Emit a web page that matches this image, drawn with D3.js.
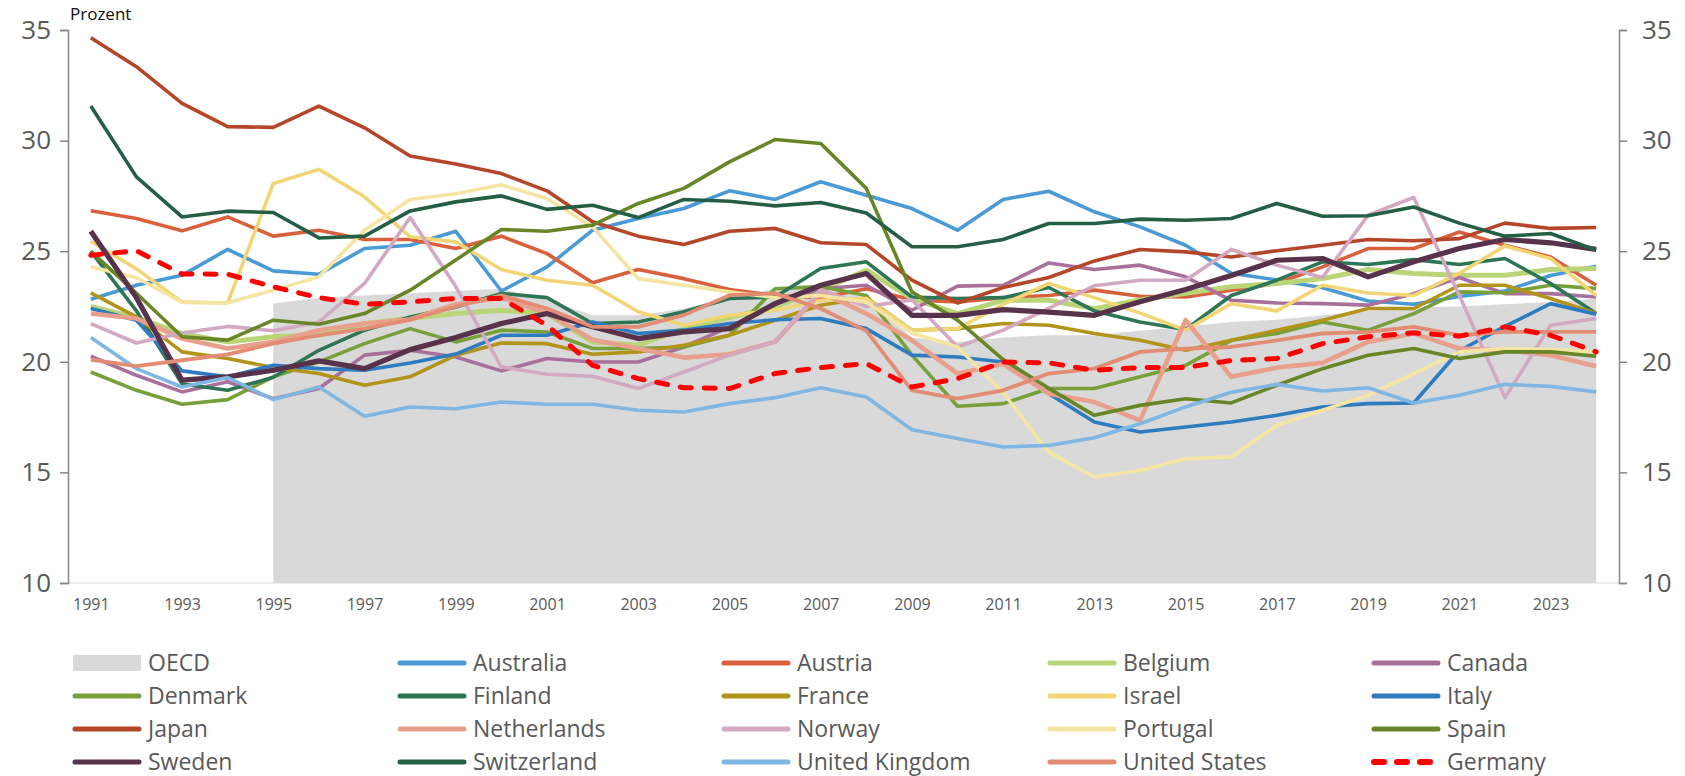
<!DOCTYPE html>
<html><head><meta charset="utf-8">
<script src="https://cdn.jsdelivr.net/npm/d3@7"></script>
<style>body{margin:0;background:#fff} svg{display:block} text{font-family:"Open Sans",sans-serif}</style>
</head><body><svg id="c" width="1685" height="776"></svg>
<script>
const years = d3.range(1991, 2025);
const yearTickLabels = [1991,1993,1995,1997,1999,2001,2003,2005,2007,2009,2011,2013,2015,2017,2019,2021,2023];
const yTickValues = [10,15,20,25,30,35];
const oecdYears = d3.range(1995, 2025);
const oecd = [22.63,22.9,23.0,23.1,23.2,23.3,22.8,22.1,22.1,22.4,22.9,23.3,23.4,22.9,21.1,20.9,21.1,21.2,21.2,21.4,21.6,21.8,21.9,22.1,22.3,22.45,22.5,22.6,22.7,22.85];

const australia = [22.83,23.46,23.91,25.08,24.11,23.96,25.12,25.27,25.9,23.2,24.29,25.95,26.48,26.93,27.73,27.34,28.14,27.53,26.93,25.95,27.34,27.71,26.78,26.1,25.27,24.0,23.7,23.35,22.75,22.6,22.95,23.2,23.9,24.32];
const austria = [26.83,26.48,25.92,26.55,25.68,25.95,25.53,25.53,25.12,25.68,24.89,23.57,24.17,23.76,23.27,23.0,22.9,23.3,22.8,22.7,22.9,23.0,23.24,22.96,22.93,23.24,23.54,24.29,25.12,25.12,25.87,25.27,24.74,23.46];
const belgium = [22.5,22.0,21.28,20.9,21.13,21.2,21.73,21.96,22.18,22.33,22.18,20.9,20.75,21.5,22.0,22.5,23.24,24.14,22.86,22.18,22.78,22.78,22.4,22.8,23.1,23.39,23.54,23.76,24.17,23.99,23.91,23.91,24.17,24.22];
const canada = [20.25,19.39,18.64,19.1,18.33,18.79,20.3,20.52,20.22,19.59,20.15,19.99,19.99,20.67,21.58,22.6,23.3,23.46,22.33,23.42,23.46,24.47,24.17,24.37,23.84,22.78,22.66,22.63,22.56,23.08,23.81,23.08,23.08,22.93];
const denmark = [19.54,18.71,18.08,18.29,19.32,20.0,20.82,21.5,20.9,21.43,21.35,20.6,20.6,20.67,21.2,23.3,23.4,23.0,20.3,17.99,18.11,18.79,18.79,19.32,19.84,20.97,21.28,21.8,21.43,22.18,23.16,23.12,23.46,23.31];
const finland = [25.0,22.3,19.0,18.71,19.3,20.52,21.43,22.03,22.48,23.09,22.9,21.73,21.8,22.26,22.86,22.93,24.22,24.52,22.93,22.86,22.9,23.36,22.3,21.8,21.46,23.0,23.69,24.52,24.4,24.62,24.4,24.67,23.54,22.18];
const france = [23.12,22.03,20.45,20.15,19.74,19.47,18.94,19.32,20.3,20.85,20.82,20.34,20.45,20.75,21.2,21.88,22.56,22.9,21.43,21.5,21.73,21.65,21.28,20.97,20.52,20.97,21.43,21.88,22.41,22.41,23.46,23.46,22.86,22.18];
const israel = [25.45,24.2,22.7,22.66,28.06,28.7,27.46,25.65,25.42,24.17,23.69,23.46,22.26,21.65,22.1,22.33,22.78,22.86,21.43,21.5,22.6,23.54,22.9,22.2,21.43,22.63,22.3,23.46,23.11,23.0,24.0,25.24,24.67,23.0];
const italy = [22.41,21.88,19.59,19.32,19.84,19.69,19.62,19.95,20.35,21.2,21.2,21.8,21.28,21.43,21.73,21.9,21.96,21.5,20.3,20.22,19.99,18.56,17.28,16.83,17.05,17.28,17.58,17.96,18.11,18.14,20.5,21.6,22.63,22.15];
const japan = [34.65,33.34,31.68,30.63,30.6,31.56,30.58,29.3,28.94,28.51,27.73,26.33,25.68,25.3,25.9,26.03,25.38,25.3,23.69,22.66,23.36,23.81,24.56,25.08,24.97,24.74,25.02,25.27,25.53,25.47,25.57,26.27,26.03,26.07];
const netherlands = [22.18,21.96,21.05,20.6,20.9,21.43,21.73,21.91,22.6,22.9,22.2,21.0,20.6,20.19,20.34,20.9,23.16,22.18,20.97,19.47,19.9,18.56,18.18,17.35,21.88,19.32,19.74,19.95,20.9,21.28,20.6,20.52,20.3,19.8];
const norway = [21.73,20.85,21.3,21.6,21.4,21.8,23.54,26.52,23.4,19.77,19.44,19.35,18.79,19.54,20.3,20.9,23.27,22.5,22.8,20.67,21.43,22.41,23.44,23.69,23.69,25.08,24.37,23.81,26.63,27.43,23.0,18.38,21.65,21.96];
const portugal = [24.3,23.8,22.7,22.66,23.24,23.84,25.95,27.34,27.6,28.0,27.38,26.1,23.76,23.46,23.16,22.9,23.0,22.7,21.3,20.67,18.6,15.92,14.79,15.09,15.62,15.7,17.13,17.81,18.49,19.47,20.45,20.6,20.55,20.45];
const spain = [25.0,23.1,21.13,20.98,21.88,21.7,22.18,23.24,24.6,25.98,25.9,26.18,27.16,27.84,29.04,30.05,29.87,27.84,23.16,21.88,20.1,18.8,17.58,18.03,18.33,18.14,18.94,19.69,20.3,20.6,20.15,20.45,20.45,20.25];
const sweden = [25.9,22.9,19.17,19.32,19.62,20.04,19.69,20.55,21.1,21.73,22.18,21.58,21.05,21.35,21.5,22.63,23.46,23.99,22.1,22.1,22.36,22.25,22.1,22.71,23.27,23.9,24.59,24.67,23.84,24.52,25.12,25.53,25.38,25.08];
const switzerland = [31.56,28.36,26.55,26.81,26.75,25.6,25.68,26.82,27.23,27.5,26.89,27.08,26.52,27.34,27.26,27.05,27.2,26.73,25.2,25.2,25.53,26.25,26.25,26.45,26.4,26.48,27.16,26.58,26.6,27.0,26.27,25.68,25.8,25.05];
const unitedKingdom = [21.1,19.69,18.86,19.29,18.29,18.86,17.54,17.96,17.88,18.18,18.08,18.08,17.81,17.73,18.11,18.38,18.83,18.41,16.93,16.53,16.15,16.22,16.57,17.2,17.96,18.62,18.98,18.68,18.83,18.14,18.49,18.98,18.89,18.64];
const unitedStates = [20.1,19.8,20.07,20.34,20.82,21.2,21.5,21.9,22.5,23.0,22.41,21.58,21.58,22.11,23.01,23.09,22.41,21.4,18.71,18.33,18.71,19.47,19.69,20.45,20.6,20.67,20.97,21.28,21.35,21.58,21.2,21.35,21.35,21.35];
const germany = [24.82,25.02,23.97,23.96,23.39,22.9,22.6,22.71,22.86,22.86,21.65,19.84,19.24,18.83,18.79,19.47,19.74,19.92,18.86,19.24,19.99,19.95,19.62,19.74,19.74,20.06,20.15,20.82,21.13,21.31,21.16,21.58,21.2,20.45];

const seriesNames = ["Australia","Austria","Belgium","Canada","Denmark","Finland","France","Israel","Italy","Japan","Netherlands","Norway","Portugal","Spain","Sweden","Switzerland","United Kingdom","United States","Germany"];
const seriesValues = [australia,austria,belgium,canada,denmark,finland,france,israel,italy,japan,netherlands,norway,portugal,spain,sweden,switzerland,unitedKingdom,unitedStates,germany];
const seriesColors = ["#4A9AD6","#D9603C","#B9D577","#A8709A","#77A03A","#2E7556","#B3941A","#F2D675","#2E7BBF","#B4462A","#E8A08C","#D2A9C1","#F5E5A2","#688628","#58314A","#245E45","#80B6E2","#E28C74","#FF0000"];
const seriesWidths = [3.6,3.6,5,3.6,3.6,3.6,3.6,3.6,3.6,3.6,4.6,3.6,3.6,3.6,5.2,3.6,3.6,3.8,5];

const legendOrder = ["OECD","Australia","Austria","Belgium","Canada","Denmark","Finland","France","Israel","Italy","Japan","Netherlands","Norway","Portugal","Spain","Sweden","Switzerland","United Kingdom","United States","Germany"];

const svg = d3.select("#c");
const pL = 68, pR = 1619, pT = 30, pB = 583;
const x = d3.scaleLinear().domain([1990.5, 2024.5]).range([pL, pR]);
const y = d3.scaleLinear().domain([10, 35]).range([pB, pT]);
const grey = "#595959";

svg.append("path")
  .datum(oecdYears.map((yr,i)=>[yr, oecd[i]]))
  .attr("fill","#D9D9D9")
  .attr("d", d3.area().x(d=>x(d[0])).y0(y(10)).y1(d=>y(d[1])));

svg.append("line").attr("x1",pL).attr("x2",pR).attr("y1",pB).attr("y2",pB)
  .attr("stroke","#D9D9D9").attr("stroke-width",1.2);

const yAxisL = d3.axisLeft(y).tickValues(yTickValues).tickSize(8).tickPadding(9);
const yAxisR = d3.axisRight(y).tickValues(yTickValues).tickSize(8).tickPadding(15);
function styleAxis(g){
  g.select(".domain").attr("stroke","#868686").attr("stroke-width",1.5);
  g.selectAll(".tick line").attr("stroke","#868686").attr("stroke-width",1.5);
  g.selectAll(".tick text").attr("fill",grey).style("font-size","26px").style("font-family","'Open Sans',sans-serif");
}
svg.append("g").attr("transform",`translate(${pL},0)`).call(yAxisL).call(styleAxis);
svg.append("g").attr("transform",`translate(${pR},0)`).call(yAxisR).call(styleAxis);

const xAxis = d3.axisBottom(x).tickValues(yearTickLabels).tickFormat(d3.format("d")).tickSize(0).tickPadding(16);
const gx = svg.append("g").attr("transform",`translate(0,${pB})`).call(xAxis);
gx.select(".domain").remove();
gx.selectAll(".tick text").attr("fill",grey).style("font-size","16px").style("font-family","'Open Sans',sans-serif");

const line = d3.line().x((d,i)=>x(years[i])).y(d=>y(d));
seriesNames.forEach((name,k)=>{
  const p = svg.append("path").datum(seriesValues[k])
    .attr("fill","none").attr("stroke",seriesColors[k]).attr("stroke-width",seriesWidths[k])
    .attr("stroke-linejoin","round").attr("d",line);
  if(name==="Germany"){ p.attr("stroke-dasharray","11,13").attr("stroke-linecap","round"); }
});

svg.append("text").attr("x",70).attr("y",20).attr("fill","#111").style("font-size","17px").text("Prozent");

const colX = [73,398,722,1048,1372];
const rowY = [663,696,729,762];
legendOrder.forEach((name,i)=>{
  const cx = colX[i%5], cy = rowY[Math.floor(i/5)];
  const g = svg.append("g");
  if(name==="OECD"){
    g.append("rect").attr("x",cx).attr("y",cy-8).attr("width",68).attr("height",16).attr("fill","#D9D9D9");
  } else {
    const k = seriesNames.indexOf(name);
    const l = g.append("line").attr("x1",cx+2).attr("x2",cx+66).attr("y1",cy).attr("y2",cy)
      .attr("stroke",seriesColors[k]).attr("stroke-width",name==="Germany"?6:5).attr("stroke-linecap","round");
    if(name==="Germany") l.attr("stroke-dasharray","10,13");
  }
  g.append("text").attr("x",cx+75).attr("y",cy).attr("dy","0.36em").attr("fill",grey)
    .style("font-size","23px").text(name);
});
</script></body></html>
